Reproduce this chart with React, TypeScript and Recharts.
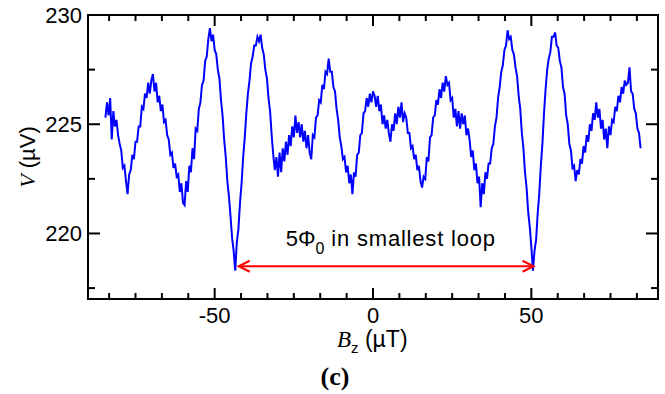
import React from 'react';
import { LineChart, Line, XAxis, YAxis, ReferenceLine, Customized } from 'recharts';

// Sweep of B_z (µT): first sample and sample spacing
const BZ_START = -84.5;
const BZ_STEP = 0.5;

// Measured voltage V (µV), one value per B_z sample
const V_VALUES = [
  225.3, 226.0, 225.4, 226.2, 224.3, 225.6, 224.9, 225.2, 224.5, 224.1,
  223.8, 223.0, 223.1, 222.4, 221.8, 222.7, 222.9, 223.6, 223.4, 224.2,
  224.2, 224.9, 224.9, 225.8, 225.7, 226.4, 226.2, 226.9, 226.4, 227.0,
  227.3, 226.5, 226.9, 226.0, 226.3, 225.6, 225.9, 225.1, 225.2, 224.5,
  224.3, 223.6, 223.7, 223.0, 223.2, 222.6, 222.7, 221.9, 222.3, 221.4,
  221.3, 222.4, 221.9, 223.1, 222.8, 223.9, 223.4, 224.8, 224.7, 225.7,
  226.0, 226.8, 227.0, 227.9, 228.1, 228.9, 229.4, 228.8, 229.1, 228.4,
  228.2, 227.5, 227.1, 226.1, 225.4, 224.3, 223.5, 222.4, 221.7, 220.8,
  219.8, 219.2, 218.3, 219.6, 220.2, 221.4, 222.3, 223.5, 224.4, 225.5,
  226.4, 227.0, 227.8, 228.1, 228.6, 228.6, 229.0, 228.8, 229.1, 228.5,
  228.2, 227.5, 227.1, 226.2, 225.6, 224.5, 223.6, 222.9, 223.5, 222.6,
  223.7, 222.8, 223.9, 223.3, 224.2, 223.6, 224.5, 224.0, 224.9, 224.4,
  225.4, 224.6, 225.1, 224.4, 225.0, 224.2, 224.7, 223.9, 224.5, 223.7,
  223.4, 224.5, 224.4, 225.3, 225.4, 226.1, 226.0, 226.8, 226.6, 227.4,
  227.3, 228.0, 227.4, 227.4, 226.7, 226.5, 225.7, 225.2, 224.4, 224.0,
  223.4, 223.5, 222.8, 223.1, 222.3, 222.7, 221.8, 222.8, 222.6, 223.6,
  223.7, 224.5, 224.6, 225.5, 225.6, 226.2, 225.8, 226.4, 226.0, 226.5,
  226.3, 225.8, 226.3, 225.6, 225.9, 225.0, 225.4, 224.8, 225.2, 224.6,
  224.2, 225.0, 224.7, 225.5, 225.0, 225.8, 225.3, 226.0, 225.1, 225.5,
  225.3, 224.6, 224.6, 223.9, 224.0, 223.4, 223.6, 222.9, 223.1, 222.4,
  222.1, 222.6, 222.5, 223.5, 223.3, 224.4, 224.5, 225.3, 225.4, 226.1,
  225.9, 226.6, 226.2, 226.9, 226.5, 227.2, 226.8, 226.9, 226.1, 226.2,
  225.3, 225.7, 224.9, 225.6, 224.8, 225.5, 225.0, 225.4, 224.5, 224.8,
  224.3, 223.5, 223.8, 222.9, 223.2, 222.3, 222.6, 221.2, 222.3, 221.8,
  222.8, 222.5, 223.2, 223.2, 223.9, 224.1, 224.9, 225.3, 226.2, 226.7,
  227.4, 227.7, 228.4, 228.6, 229.3, 228.9, 229.0, 228.4, 228.2, 227.6,
  227.2, 226.3, 225.7, 224.6, 223.9, 222.8, 222.1, 221.0, 220.3, 219.4,
  218.3, 219.2, 219.7, 220.9, 221.8, 223.1, 224.1, 225.5, 226.6, 227.5,
  228.0, 228.3, 229.0, 229.0, 229.2, 228.6, 228.5, 227.9, 227.6, 226.7,
  226.4, 225.4, 225.0, 224.1, 223.8, 223.0, 223.1, 222.4, 222.9, 222.7,
  223.4, 223.2, 224.0, 223.7, 224.5, 224.2, 225.0, 224.7, 225.5, 225.2,
  226.0, 225.3, 225.7, 224.8, 225.2, 224.3, 224.8, 223.9, 224.9, 224.5,
  225.2, 225.1, 225.8, 225.6, 226.3, 226.0, 226.7, 226.4, 227.0, 226.8,
  226.9, 227.6, 226.5, 226.4, 225.7, 225.5, 224.8, 224.6, 223.9,
];

const X_DOMAIN = [-90, 90];
const Y_DOMAIN = [217, 230];
const X_MAJOR = [-50, 0, 50];
const X_MINOR = [
  -83.33, -75, -66.67, -58.33, -41.67, -33.33, -25, -16.67, -8.33,
  8.33, 16.67, 25, 33.33, 41.67, 58.33, 66.67, 75, 83.33,
];
const Y_MAJOR = [220, 225, 230];
const Y_MINOR = [217.5, 222.5, 227.5];

// Annotation: double arrow between the two deep minima
const ARROW_FROM = -42.4;
const ARROW_TO = 50.7;
const ARROW_V = 218.5;

const data = V_VALUES.map((v, i) => ({ bz: BZ_START + i * BZ_STEP, v }));

// Layout of the plot box
const W = 665;
const H = 394;
const M = { top: 15, right: 7, left: 88, bottom: 95 };
const PL = M.left;
const PR = W - M.right;
const PT = M.top;
const PB = H - M.bottom;

const SANS = '"Liberation Sans", Arial, Helvetica, sans-serif';
const SERIF = '"Liberation Serif", "Times New Roman", Times, serif';

const XLabelTick = (props: any) => {
  const { x, y, payload } = props;
  return (
    <text x={x} y={y + 24} textAnchor="middle" fontSize={22} fontFamily={SANS} fill="#000">
      {String(payload.value)}
    </text>
  );
};

const YLabelTick = (props: any) => {
  const { x, y, payload } = props;
  return (
    <text x={x - 6} y={y + 8} textAnchor="end" fontSize={22} fontFamily={SANS} fill="#000">
      {String(payload.value)}
    </text>
  );
};

// inward tick marks on top + bottom edges at a vertical reference position
const vTickShape = (len: number) => (p: any) => {
  const x = p.x1;
  return (
    <g>
      <line x1={x} y1={PB} x2={x} y2={PB - len} stroke="#000" strokeWidth={2} />
      <line x1={x} y1={PT} x2={x} y2={PT + len} stroke="#000" strokeWidth={2} />
    </g>
  );
};

// inward tick marks on left + right edges at a horizontal reference position
const hTickShape = (len: number) => (p: any) => {
  const y = p.y1;
  return (
    <g>
      <line x1={PL} y1={y} x2={PL + len} y2={y} stroke="#000" strokeWidth={2} />
      <line x1={PR} y1={y} x2={PR - len} y2={y} stroke="#000" strokeWidth={2} />
    </g>
  );
};

const ArrowShape = (p: any) => {
  const x1 = Math.min(p.x1, p.x2);
  const x2 = Math.max(p.x1, p.x2);
  const y = p.y1;
  const hl = 11;
  const hw = 5.5;
  return (
    <g>
      <line x1={x1} y1={y} x2={x2} y2={y} stroke="#ff0000" strokeWidth={2} />
      <polyline points={`${x1 + hl},${y - hw} ${x1},${y} ${x1 + hl},${y + hw}`} fill="none" stroke="#ff0000" strokeWidth={2} />
      <polyline points={`${x2 - hl},${y - hw} ${x2},${y} ${x2 - hl},${y + hw}`} fill="none" stroke="#ff0000" strokeWidth={2} />
      <text x={x1 + 47} y={y - 20} fontSize={22} fontFamily={SANS} fill="#000">
        5Φ
        <tspan dy={8} fontSize={16}>0</tspan>
        <tspan dy={-8} letterSpacing={0.8}> in smallest loop</tspan>
      </text>
    </g>
  );
};

const Labels = () => (
  <g>
    <rect x={PL} y={PT} width={PR - PL} height={PB - PT} fill="none" stroke="#000" strokeWidth={2} />
    <text
      transform="rotate(-90, 28, 157)"
      x={28}
      y={164}
      textAnchor="middle"
      fontSize={22}
      fontFamily={SANS}
      fill="#000"
    >
      <tspan fontFamily={SERIF} fontStyle="italic">V</tspan>
      <tspan> (µV)</tspan>
    </text>
    <text x={337} y={347} fontSize={23} fontFamily={SANS} fill="#000">
      <tspan fontFamily={SERIF} fontStyle="italic">B</tspan>
      <tspan dy={6} fontSize={15}>z</tspan>
      <tspan dy={-6}> (µT)</tspan>
    </text>
    <text x={335} y={385} textAnchor="middle" fontSize={26} fontWeight="bold" fontFamily={SERIF} fill="#000">
      (c)
    </text>
  </g>
);

export default function App() {
  return (
    <div style={{ position: 'absolute', left: 0, top: 0, width: W, height: H, background: '#fff' }}>
      <LineChart width={W} height={H} data={data} margin={{ top: M.top, right: M.right, bottom: 0, left: 0 }}>
        <XAxis
          dataKey="bz"
          type="number"
          domain={X_DOMAIN}
          ticks={X_MAJOR}
          interval={0}
          height={M.bottom}
          tickSize={0}
          tickMargin={0}
          tickLine={false}
          axisLine={false}
          tick={XLabelTick}
          allowDataOverflow
        />
        <YAxis
          type="number"
          domain={Y_DOMAIN}
          ticks={Y_MAJOR}
          interval={0}
          width={M.left}
          tickSize={0}
          tickMargin={0}
          tickLine={false}
          axisLine={false}
          tick={YLabelTick}
          allowDataOverflow
        />
        {X_MAJOR.map((v) => (
          <ReferenceLine key={`xM${v}`} x={v} shape={vTickShape(11)} />
        ))}
        {X_MINOR.map((v) => (
          <ReferenceLine key={`xm${v}`} x={v} shape={vTickShape(6)} />
        ))}
        {Y_MAJOR.map((v) => (
          <ReferenceLine key={`yM${v}`} y={v} shape={hTickShape(12)} ifOverflow="visible" />
        ))}
        {Y_MINOR.map((v) => (
          <ReferenceLine key={`ym${v}`} y={v} shape={hTickShape(7)} />
        ))}
        <Line
          type="linear"
          dataKey="v"
          stroke="#0000ff"
          strokeWidth={2}
          dot={false}
          activeDot={false}
          isAnimationActive={false}
        />
        <ReferenceLine
          segment={[
            { x: ARROW_FROM, y: ARROW_V },
            { x: ARROW_TO, y: ARROW_V },
          ]}
          shape={(p: any) => <ArrowShape {...p} />}
        />
        <Customized component={<Labels />} />
      </LineChart>
    </div>
  );
}
